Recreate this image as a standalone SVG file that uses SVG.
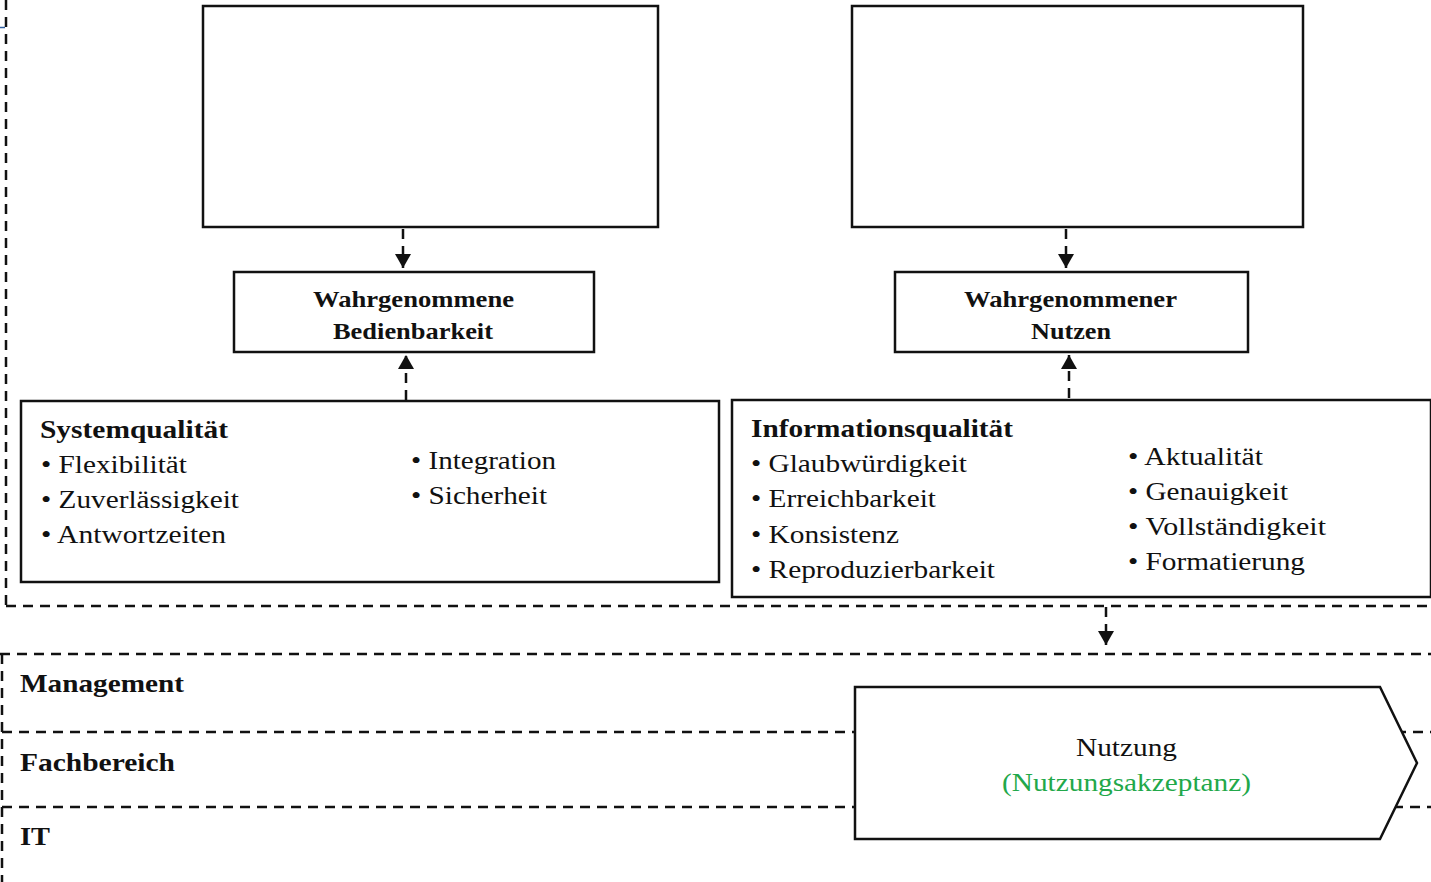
<svg xmlns="http://www.w3.org/2000/svg" width="1431" height="882" viewBox="0 0 1431 882">
  <defs>
    <marker id="arrowBig" viewBox="0 0 14 16" refX="14" refY="8" markerWidth="14" markerHeight="16" orient="auto" markerUnits="userSpaceOnUse">
      <path d="M0,0 L14,8 L0,16 Z" fill="#111"/>
    </marker>
  </defs>
  <style>
    .box { fill: #fff; stroke: #111; stroke-width: 2.5; }
    .dash { fill: none; stroke: #111; stroke-width: 2.5; stroke-dasharray: 10 7; }
    .conn { fill: none; stroke: #111; stroke-width: 2.5; stroke-dasharray: 10 7; }
    text { font-family: "Liberation Serif", "Times New Roman", serif; fill: #111; }
    .title { font-size: 24px; font-weight: bold; }
    .head { font-size: 26px; font-weight: bold; }
    .item { font-size: 26px; }
    .lane { font-size: 26px; font-weight: bold; }
    .accept { fill: #22a84a; }
  </style>

  <rect width="1431" height="882" fill="#fff"/>

  <!-- frame around the quality model -->
  <g id="frame">
    <line class="dash" x1="6" y1="0" x2="6" y2="606"/>
    <line class="dash" x1="6" y1="606" x2="1431" y2="606"/>
    <line x1="0" y1="27.5" x2="5" y2="27.5" stroke="#2f5fa0" stroke-width="1.5"/>
  </g>

  <!-- swimlanes -->
  <g id="lanes">
    <line class="dash" x1="0" y1="654" x2="1431" y2="654"/>
    <line class="dash" x1="2" y1="654" x2="2" y2="882"/>
    <line class="dash" x1="2" y1="732" x2="855" y2="732"/>
    <line class="dash" x1="1396" y1="732" x2="1431" y2="732"/>
    <line class="dash" x1="2" y1="807" x2="855" y2="807"/>
    <line class="dash" x1="1393" y1="807" x2="1431" y2="807"/>
    <text class="lane" x="20" y="692" textLength="164" lengthAdjust="spacingAndGlyphs">Management</text>
    <text class="lane" x="20" y="771" textLength="155" lengthAdjust="spacingAndGlyphs">Fachbereich</text>
    <text class="lane" x="20" y="845" textLength="30" lengthAdjust="spacingAndGlyphs">IT</text>
  </g>

  <g id="box-left-top">
    <rect class="box" x="203" y="6" width="455" height="221"/>
  </g>
  <g id="box-right-top">
    <rect class="box" x="852" y="6" width="451" height="221"/>
  </g>

  <g id="bedienbarkeit">
    <rect class="box" x="234" y="272" width="360" height="80"/>
    <text class="title" x="413.5" y="307" text-anchor="middle" textLength="201" lengthAdjust="spacingAndGlyphs">Wahrgenommene</text>
    <text class="title" x="413" y="339" text-anchor="middle" textLength="160" lengthAdjust="spacingAndGlyphs">Bedienbarkeit</text>
  </g>

  <g id="nutzen">
    <rect class="box" x="895" y="272" width="353" height="80"/>
    <text class="title" x="1070.5" y="307" text-anchor="middle" textLength="213" lengthAdjust="spacingAndGlyphs">Wahrgenommener</text>
    <text class="title" x="1071" y="339" text-anchor="middle" textLength="80" lengthAdjust="spacingAndGlyphs">Nutzen</text>
  </g>

  <g id="systemqualitaet">
    <rect class="box" x="21" y="401" width="698" height="181"/>
    <text class="head" x="40" y="438" textLength="188" lengthAdjust="spacingAndGlyphs">Systemqualität</text>
    <text class="item" x="41" y="473" textLength="146" lengthAdjust="spacingAndGlyphs">• Flexibilität</text>
    <text class="item" x="41" y="508" textLength="198" lengthAdjust="spacingAndGlyphs">• Zuverlässigkeit</text>
    <text class="item" x="41" y="543" textLength="185" lengthAdjust="spacingAndGlyphs">• Antwortzeiten</text>
    <text class="item" x="411" y="469" textLength="145" lengthAdjust="spacingAndGlyphs">• Integration</text>
    <text class="item" x="411" y="504" textLength="136" lengthAdjust="spacingAndGlyphs">• Sicherheit</text>
  </g>

  <g id="informationsqualitaet">
    <rect class="box" x="732" y="400" width="699" height="197"/>
    <text class="head" x="751" y="437" textLength="262" lengthAdjust="spacingAndGlyphs">Informationsqualität</text>
    <text class="item" x="751" y="472" textLength="216" lengthAdjust="spacingAndGlyphs">• Glaubwürdigkeit</text>
    <text class="item" x="751" y="507" textLength="185" lengthAdjust="spacingAndGlyphs">• Erreichbarkeit</text>
    <text class="item" x="751" y="543" textLength="148" lengthAdjust="spacingAndGlyphs">• Konsistenz</text>
    <text class="item" x="751" y="578" textLength="244" lengthAdjust="spacingAndGlyphs">• Reproduzierbarkeit</text>
    <text class="item" x="1128" y="465" textLength="135" lengthAdjust="spacingAndGlyphs">• Aktualität</text>
    <text class="item" x="1128" y="500" textLength="160" lengthAdjust="spacingAndGlyphs">• Genauigkeit</text>
    <text class="item" x="1128" y="535" textLength="198" lengthAdjust="spacingAndGlyphs">• Vollständigkeit</text>
    <text class="item" x="1128" y="570" textLength="177" lengthAdjust="spacingAndGlyphs">• Formatierung</text>
  </g>

  <g id="nutzung">
    <path class="box" d="M855,687 L1380,687 L1417,763 L1380,839 L855,839 Z"/>
    <text class="item" x="1126.5" y="756" text-anchor="middle" textLength="101" lengthAdjust="spacingAndGlyphs">Nutzung</text>
    <text class="item accept" x="1126.5" y="791" text-anchor="middle" textLength="249" lengthAdjust="spacingAndGlyphs">(Nutzungsakzeptanz)</text>
  </g>

  <!-- connectors -->
  <g id="connectors">
    <line class="conn" x1="403" y1="229" x2="403" y2="268" marker-end="url(#arrowBig)"/>
    <line class="conn" x1="1066" y1="229" x2="1066" y2="268" marker-end="url(#arrowBig)"/>
    <line class="conn" x1="406" y1="400" x2="406" y2="355" marker-end="url(#arrowBig)"/>
    <line class="conn" x1="1069" y1="398" x2="1069" y2="355" marker-end="url(#arrowBig)"/>
    <line class="conn" x1="1106" y1="607" x2="1106" y2="645" marker-end="url(#arrowBig)"/>
  </g>
</svg>
